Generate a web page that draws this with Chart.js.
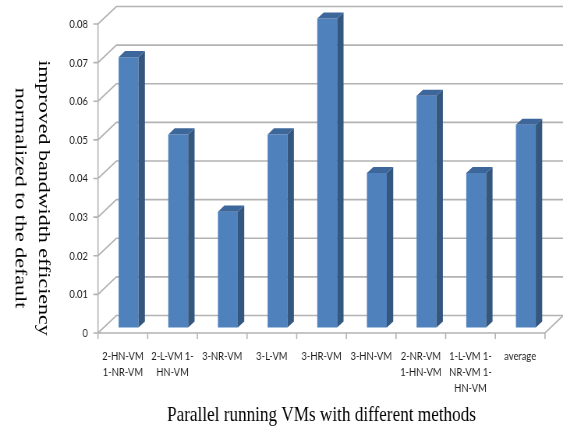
<!DOCTYPE html>
<html>
<head>
<meta charset="utf-8">
<script src="https://cdn.jsdelivr.net/npm/chart.js@4"></script>
<style>
  html, body { margin: 0; padding: 0; overflow: hidden; background: #fff; width: 563px; height: 434px; }
  /* the chart is laid out on a wider canvas and squeezed horizontally */
  #wrap { width: 722px; height: 434px; transform: scaleX(0.77978); transform-origin: 0 0; }
  canvas { display: block; }
</style>
</head>
<body>
<div id="wrap"><canvas id="chart" width="722" height="434"></canvas></div>
<script>
// ---- data ----
const categories = [
  ['2-HN-VM', '1-NR-VM'],
  ['2-L-VM 1-', 'HN-VM'],
  ['3-NR-VM'],
  ['3-L-VM'],
  ['3-HR-VM'],
  ['3-HN-VM'],
  ['2-NR-VM', '1-HN-VM'],
  ['1-L-VM 1-', 'NR-VM 1-', 'HN-VM'],
  ['average']
];
const efficiencyGain = [0.07, 0.05, 0.03, 0.05, 0.08, 0.04, 0.06, 0.04, 0.0525];
const yTickLabels = ['0', '0.01', '0.02', '0.03', '0.04', '0.05', '0.06', '0.07', '0.08'];
const xTitle = 'Parallel running VMs with different methods';
const yTitleLines = ['improved bandwidth efficiency', 'normalized to the default'];

// ---- styling ----
const FRONT = '#4f81bd';
const SIDE = '#34577f';
const TOP = '#3d669b';
const GRID = '#b3b3b3';
const TICK_TEXT = '#1c1c1c';
const WALL = { dx: 23.5, dy: -17.5 };     // depth of the 3D box
const BAR_FRONT = 0.31, BAR_BACK = 0.66;  // bar depth position within the box

const frontShift = { x: WALL.dx * BAR_FRONT, y: WALL.dy * BAR_FRONT };
const barDepth = { x: WALL.dx * (BAR_BACK - BAR_FRONT), y: WALL.dy * (BAR_BACK - BAR_FRONT) };

const box3d = {
  id: 'box3d',
  beforeDatasetsDraw(chart) {
    const { ctx, chartArea: a, scales: { x, y } } = chart;
    const y0 = y.getPixelForValue(0);
    const yTop = y.getPixelForValue(y.max);
    ctx.save();
    ctx.strokeStyle = GRID;
    ctx.lineWidth = 1.6;
    ctx.lineCap = 'butt';
    ctx.beginPath();
    // floor front and right edges
    ctx.moveTo(a.left, y0);
    ctx.lineTo(a.right, y0);
    ctx.lineTo(a.right + WALL.dx, y0 + WALL.dy);
    // value axis
    ctx.moveTo(a.left, yTop);
    ctx.lineTo(a.left, y0);
    // gridlines across side wall and back wall, plus tick marks
    y.ticks.forEach(t => {
      const py = y.getPixelForValue(t.value);
      ctx.moveTo(a.left - 6, py);
      ctx.lineTo(a.left, py);
      ctx.lineTo(a.left + WALL.dx, py + WALL.dy);
      ctx.lineTo(chart.width, py + WALL.dy);
    });
    // category boundary ticks
    for (let i = 0; i <= categories.length; i++) {
      const px = x.getPixelForValue(i - 0.5);
      ctx.moveTo(px, y0);
      ctx.lineTo(px, y0 + 6);
    }
    ctx.stroke();
    ctx.restore();

    // bars' front faces are drawn by Chart.js, pushed back into the box
    ctx.save();
    ctx.translate(frontShift.x, frontShift.y);
  },
  afterDatasetsDraw(chart) {
    const { ctx } = chart;
    const meta = chart.getDatasetMeta(0);
    meta.data.forEach(bar => {
      const { x, y, base, width } = bar.getProps(['x', 'y', 'base', 'width'], true);
      const l = x - width / 2, r = x + width / 2;
      // side face
      ctx.fillStyle = SIDE;
      ctx.beginPath();
      ctx.moveTo(r, y);
      ctx.lineTo(r + barDepth.x, y + barDepth.y);
      ctx.lineTo(r + barDepth.x, base + barDepth.y);
      ctx.lineTo(r, base);
      ctx.closePath();
      ctx.fill();
      // top face
      ctx.fillStyle = TOP;
      ctx.beginPath();
      ctx.moveTo(l, y);
      ctx.lineTo(r, y);
      ctx.lineTo(r + barDepth.x, y + barDepth.y);
      ctx.lineTo(l + barDepth.x, y + barDepth.y);
      ctx.closePath();
      ctx.fill();
    });
    ctx.restore();
  },
  afterDraw(chart) {
    const { ctx, chartArea: a } = chart;
    ctx.save();
    ctx.fillStyle = '#000';
    ctx.font = '22px "Liberation Serif", "Times New Roman", serif';
    ctx.textAlign = 'center';
    ctx.textBaseline = 'alphabetic';
    ctx.fillText(xTitle, (a.left + a.right) / 2, 421);
    // value-axis title, read top to bottom
    const cy = 198;
    const baselines = [50, 20];
    yTitleLines.forEach((line, i) => {
      ctx.save();
      ctx.translate(baselines[i], cy);
      ctx.rotate(Math.PI / 2);
      ctx.fillText(line, 0, 0);
      ctx.restore();
    });
    ctx.restore();
  }
};

const tickFont = { family: 'Lato, "Open Sans", sans-serif', size: 12 };

new Chart(document.getElementById('chart'), {
  type: 'bar',
  data: {
    labels: categories,
    datasets: [{
      data: efficiencyGain,
      backgroundColor: FRONT,
      borderWidth: 0,
      barPercentage: 0.40,
      categoryPercentage: 1.0,
      clip: false
    }]
  },
  options: {
    responsive: false,
    animation: false,
    devicePixelRatio: 1,
    layout: { padding: { left: 0, right: 23.1, top: 24, bottom: 0 } },
    plugins: { legend: { display: false }, tooltip: { enabled: false }, title: { display: false } },
    scales: {
      x: {
        grid: { display: false, drawTicks: false },
        border: { display: false },
        ticks: { font: { ...tickFont, lineHeight: 1.35 }, color: TICK_TEXT, padding: 15, maxRotation: 0, autoSkip: false },
        afterFit(scale) { scale.height = 101; }
      },
      y: {
        min: 0,
        max: 0.08,
        grid: { display: false, drawTicks: false },
        border: { display: false },
        ticks: {
          stepSize: 0.01,
          font: tickFont,
          color: TICK_TEXT,
          padding: 13,
          callback: (v, i) => yTickLabels[i]
        },
        afterFit(scale) { scale.width = 125.7; }
      }
    }
  },
  plugins: [box3d]
});
</script>
</body>
</html>
